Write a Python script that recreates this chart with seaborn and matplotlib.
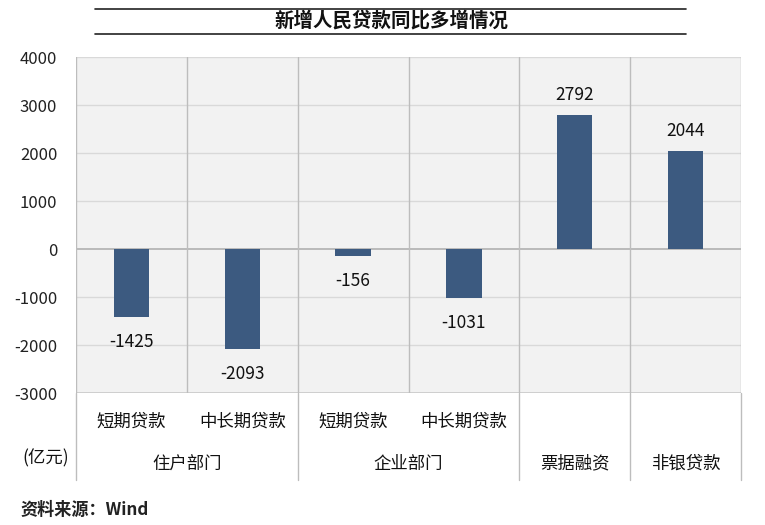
import matplotlib
matplotlib.use("Agg")
import matplotlib.pyplot as plt
import seaborn as sns
import pandas as pd
from matplotlib.lines import Line2D

categories = ["住户短期", "住户中长期", "企业短期", "企业中长期", "票据融资", "非银贷款"]
sub_labels = ["短期贷款", "中长期贷款", "短期贷款", "中长期贷款", "", ""]
values = [-1425, -2093, -156, -1031, 2792, 2044]
groups = ["住户部门", "企业部门", "票据融资", "非银贷款"]
group_spans = [(0, 2), (2, 4), (4, 5), (5, 6)]
yticks = [-3000, -2000, -1000, 0, 1000, 2000, 3000, 4000]
title = "新增人民贷款同比多增情况"
unit = "(亿元)"
source = "资料来源：Wind"

sns.set_style("white")
plt.rcParams['font.family'] = ['Noto Sans CJK SC', 'DejaVu Sans']

fig = plt.figure(figsize=(7.65, 5.25), dpi=100)
ax = fig.add_axes([76/765, 1-393/525, (741-76)/765, (393-57)/525])
ax.set_facecolor("#F2F2F2")

df = pd.DataFrame({"cat": categories, "val": values})
sns.barplot(data=df, x="cat", y="val", order=categories, color="#3C5A80",
            width=0.32, ax=ax, saturation=1, zorder=3, linewidth=0)

ax.set_ylim(-3000, 4000)
ax.set_xlim(-0.5, len(categories) - 0.5)
ax.set_yticks(yticks)
ax.set_yticklabels([str(t) for t in yticks], fontsize=12, color="#222222")
ax.tick_params(axis="y", length=0, pad=13.5)
ax.set_xticks([])
ax.set_xlabel("")
ax.set_ylabel("")
for s in ax.spines.values():
    s.set_visible(False)

for t in yticks:
    if t == 0:
        ax.axhline(t, color="#B0B0B0", lw=1.2, zorder=2)
    elif t == -3000:
        ax.axhline(t, color="#C8C8C8", lw=1.2, zorder=2)
    else:
        ax.axhline(t, color="#D9D9D9", lw=1, zorder=1)

# vertical separators inside plot
for i in range(len(categories) + 1):
    ax.axvline(i - 0.5, color="#BDBDBD", lw=1, zorder=2)

# data labels
for i, v in enumerate(values):
    if v >= 0:
        ax.text(i, v + 220, str(v), ha="center", va="bottom", fontsize=12.5, color="#111111")
    else:
        ax.text(i, v - 330, str(v), ha="center", va="top", fontsize=12.5, color="#111111")

# category labels below axis
trans = ax.get_xaxis_transform()
for i, lab in enumerate(sub_labels):
    if lab:
        ax.text(i, -0.085, lab, transform=trans, ha="center", va="center", fontsize=12.5, color="#111111")
for g, (a, b) in zip(groups, group_spans):
    ax.text((a + b - 1) / 2, -0.21, g, transform=trans, ha="center", va="center", fontsize=12.5, color="#111111")

# group separators extending below
bounds = sorted(set([a for a, b in group_spans] + [b for a, b in group_spans]))
for bnd in bounds:
    ax.add_line(Line2D([bnd - 0.5, bnd - 0.5], [0, -0.26], transform=trans,
                       color="#BDBDBD", lw=1, clip_on=False))

# unit label
fig.text(46/765, 1-458/525, unit, ha="center", va="center", fontsize=12.5, color="#111111")

# title with lines
fig.add_artist(Line2D([95/765, 686/765], [1-9/525, 1-9/525], color="#222222", lw=1.2))
fig.add_artist(Line2D([95/765, 686/765], [1-34/525, 1-34/525], color="#222222", lw=1.2))
fig.text(391/765, 1-21/525, title, ha="center", va="center", fontsize=14,
         fontweight="bold", color="#111111")

fig.text(20/765, 1-510/525, source, ha="left", va="center", fontsize=12.3,
         fontweight="bold", color="#222222")

fig.savefig("out.png", dpi=100)
